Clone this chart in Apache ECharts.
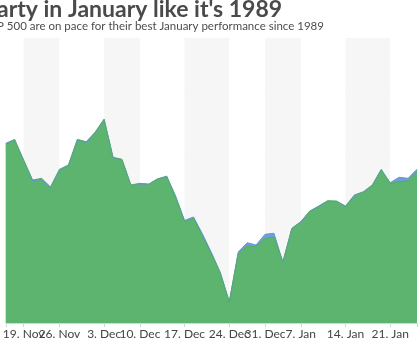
<!DOCTYPE html>
<html>
<head>
<meta charset="utf-8">
<script src="https://cdn.jsdelivr.net/npm/echarts@6/dist/echarts.min.js"></script>
<style>
html,body{margin:0;padding:0;background:#fff;overflow:hidden;}
#chart{width:420px;height:350px;}
</style>
</head>
<body>
<div id="chart"></div>
<script>
// Trading days shown (categories)
const days = ["15. Nov","16. Nov","19. Nov","20. Nov","21. Nov","23. Nov","26. Nov","27. Nov","28. Nov","29. Nov","30. Nov",
  "3. Dec","4. Dec","6. Dec","7. Dec","10. Dec","11. Dec","12. Dec","13. Dec","14. Dec","17. Dec","18. Dec","19. Dec","20. Dec","21. Dec",
  "24. Dec","26. Dec","27. Dec","28. Dec","31. Dec","2. Jan","3. Jan","4. Jan","7. Jan","8. Jan","9. Jan","10. Jan","11. Jan",
  "14. Jan","15. Jan","16. Jan","17. Jan","18. Jan","22. Jan","23. Jan","24. Jan","25. Jan"];

// Green series (front)
const greenValues = [15.70,16.01,14.30,12.54,12.69,11.93,13.48,13.86,16.11,15.90,16.75,
  17.89,14.54,14.36,12.11,12.25,12.19,12.66,12.83,11.01,8.89,9.18,7.63,6.05,4.36,
  1.87,6.05,6.75,6.69,7.43,7.52,5.38,8.31,8.89,9.82,10.26,10.73,10.70,
  10.26,11.23,11.52,12.11,13.48,12.25,12.39,12.46,13.27];

// Blue series (behind)
const blueValues = [15.76,16.11,14.21,12.46,12.59,11.84,13.38,13.77,16.01,15.83,16.67,
  17.81,14.47,14.30,12.02,12.19,12.15,12.63,12.89,11.14,8.99,9.30,7.81,6.18,4.43,
  1.84,6.23,7.04,6.84,7.78,7.87,5.31,8.25,8.82,9.74,10.18,10.66,10.66,
  10.18,11.14,11.45,12.02,13.42,12.31,12.78,12.69,13.48];

// Weekly ticks: category where each tick sits, and its label
const tickDays = ["19. Nov","26. Nov","3. Dec","10. Dec","17. Dec","24. Dec","31. Dec","7. Jan","14. Jan","22. Jan"];
const tickLabels = ["19. Nov","26. Nov","3. Dec","10. Dec","17. Dec","24. Dec","31. Dec","7. Jan","14. Jan","21. Jan"];

const titleText = "arty in January like it's 1989";
const subtitleText = "P 500 are on pace for their best January performance since 1989";

const tickSet = new Set(tickDays);
const isEnd = (i) => i === 0 || i === days.length - 1;
const isTick = (i, v) => isEnd(i) || tickSet.has(days[i]);

const chart = echarts.init(document.getElementById('chart'), null, {renderer: 'canvas'});
chart.setOption({
  animation: false,
  backgroundColor: '#ffffff',
  title: {
    text: titleText,
    subtext: subtitleText,
    left: -3,
    top: -2,
    padding: 0,
    itemGap: -1,
    textStyle: {fontFamily: 'Lato', fontWeight: 'bold', fontSize: 23, color: '#4a4a4a'},
    subtextStyle: {fontFamily: 'Lato', fontSize: 11.5, color: '#4d4d4d'}
  },
  grid: {left: 0, right: 0, top: 38, bottom: 27, containLabel: false},
  xAxis: {
    type: 'category',
    data: days,
    boundaryGap: false,
    axisLine: {show: true, lineStyle: {color: '#ccd6eb'}},
    axisTick: {show: true, interval: isTick, length: 4, lineStyle: {color: '#ccd6eb'}},
    axisLabel: {
      interval: isTick,
      hideOverlap: false,
      margin: 5,
      fontFamily: 'Lato',
      fontSize: 12,
      color: '#444',
      formatter: (v) => { const k = tickDays.indexOf(v); return k < 0 ? '' : tickLabels[k]; }
    },
    splitLine: {show: false},
    splitArea: {show: true, interval: isTick, areaStyle: {color: ['#ffffff', '#f6f6f6']}}
  },
  yAxis: {
    type: 'value',
    min: 0,
    max: 25,
    interval: 5,
    axisLabel: {show: false},
    axisLine: {show: false},
    axisTick: {show: false},
    splitLine: {show: true, lineStyle: {color: '#e6e6e6', width: 1}}
  },
  series: [
    {
      type: 'line',
      data: blueValues,
      symbol: 'none',
      lineStyle: {color: '#5f95d8', width: 1},
      areaStyle: {color: '#6f9fdb', opacity: 1, origin: 'start'}
    },
    {
      type: 'line',
      data: greenValues,
      symbol: 'none',
      lineStyle: {color: '#55ac64', width: 1},
      areaStyle: {color: '#5db46e', opacity: 1, origin: 'start'}
    }
  ]
});
</script>
</body>
</html>
